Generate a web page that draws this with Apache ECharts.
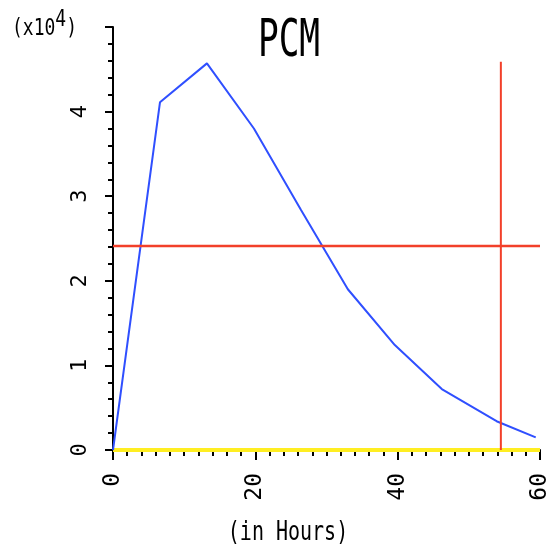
<!DOCTYPE html>
<html>
<head>
<meta charset="utf-8">
<script src="https://cdn.jsdelivr.net/npm/echarts@6/dist/echarts.min.js"></script>
<style>
  html, body { margin: 0; padding: 0; background: #fff; }
  #chart { width: 550px; height: 547px; }
</style>
</head>
<body>
<div id="chart"></div>
<script>
// PCM concentration over time (values in x10^4)
var hours = [0, 6.6, 13.2, 19.8, 26.4, 33, 39.6, 46.2, 53.9, 59.4];
var pcm = [0, 4.11, 4.57, 3.80, 2.84, 1.90, 1.24, 0.72, 0.34, 0.15];

// reference lines
var hLineX = [0, 60];
var hLineY = [2.41, 2.41];
var vLineX = [54.5, 54.5];
var vLineY = [0, 4.59];
var baseX = [0, 60];
var baseY = [0, 0];

function pairs(xs, ys) {
    return xs.map(function (x, i) { return [x, ys[i]]; });
}

var font = '"DejaVu Sans Mono", "Liberation Mono", monospace';

var chart = echarts.init(document.getElementById('chart'));

chart.setOption({
    animation: false,
    grid: { left: 113, right: 10, top: 27, bottom: 97, outerBoundsMode: 'none', containLabel: false },
    xAxis: {
        type: 'value',
        min: 0,
        max: 60,
        interval: 20,
        axisLine: { lineStyle: { color: '#000', width: 2 } },
        axisTick: { length: 10, lineStyle: { color: '#000', width: 2 } },
        minorTick: { show: true, splitNumber: 10, length: 6, lineStyle: { color: '#000', width: 2 } },
        splitLine: { show: false },
        axisLabel: { rotate: 90, margin: 23, fontFamily: font, fontSize: 23, color: '#000' }
    },
    yAxis: {
        type: 'value',
        min: 0,
        max: 5,
        interval: 1,
        axisLine: { show: true, lineStyle: { color: '#000', width: 2 } },
        axisTick: { show: true, length: 8, lineStyle: { color: '#000', width: 2 } },
        minorTick: { show: true, splitNumber: 5, length: 5, lineStyle: { color: '#000', width: 2 } },
        splitLine: { show: false },
        axisLabel: {
            rotate: 90, margin: 24, lineHeight: 18, showMaxLabel: false,
            fontFamily: font, fontSize: 22, color: '#000'
        }
    },
    graphic: [
        {
            type: 'text',
            x: 289,
            y: 42,
            scaleX: 0.86,
            scaleY: 1.3,
            style: {
                text: 'PCM', fontFamily: font, fontSize: 40, fill: '#000',
                align: 'center', verticalAlign: 'middle'
            }
        },
        {
            type: 'text',
            x: 288,
            y: 533,
            scaleY: 1.3,
            style: {
                text: '(in Hours)', fontFamily: font, fontSize: 20, fill: '#000',
                align: 'center', verticalAlign: 'middle'
            }
        },
        {
            type: 'text',
            x: 12,
            y: 29,
            scaleY: 1.3,
            style: {
                text: '(x10{sup|4})',
                fontFamily: font, fontSize: 18, fill: '#000',
                align: 'left', verticalAlign: 'middle',
                rich: { sup: { fontFamily: font, fontSize: 18, padding: [0, 0, 14, 0] } }
            }
        }
    ],
    series: [
        {
            type: 'line',
            data: pairs(baseX, baseY),
            showSymbol: false,
            lineStyle: { color: '#ffee22', width: 4 },
            z: 3
        },
        {
            type: 'line',
            data: pairs(hours, pcm),
            showSymbol: false,
            lineStyle: { color: '#2f4fff', width: 2 },
            z: 4
        },
        {
            type: 'line',
            data: pairs(hLineX, hLineY),
            showSymbol: false,
            lineStyle: { color: '#f2402a', width: 2.5 },
            z: 5
        },
        {
            type: 'line',
            data: pairs(vLineX, vLineY),
            showSymbol: false,
            lineStyle: { color: '#f2402a', width: 2 },
            z: 5
        }
    ]
});
</script>
</body>
</html>
